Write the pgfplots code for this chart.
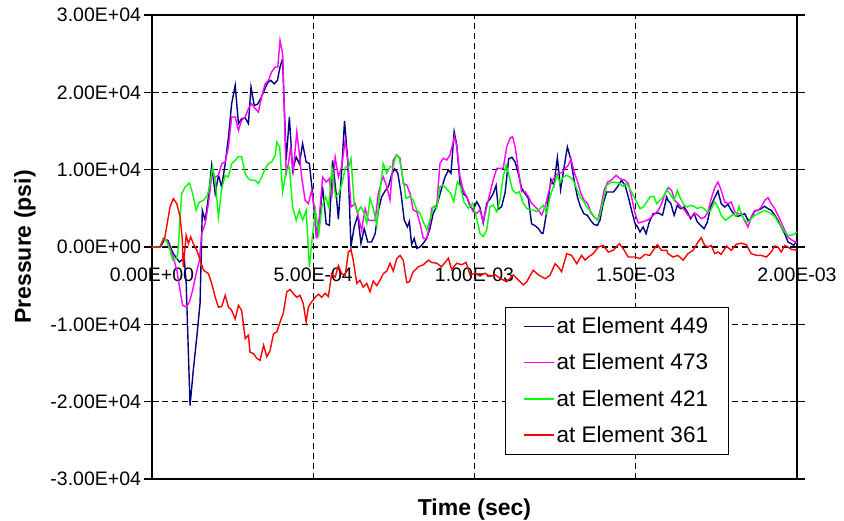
\documentclass[border=0pt]{standalone}
\usepackage{pgfplots}
\pgfplotsset{compat=1.18}
\usepackage{pgfplotstable}
\usepackage{fontspec}
\setmainfont{Liberation Sans}
\definecolor{navyb}{RGB}{0,0,128}
\definecolor{magn}{RGB}{255,0,255}
\definecolor{grn}{RGB}{0,255,0}
\definecolor{redd}{RGB}{255,0,0}

\pgfplotsset{
  /pgfplots/legend image code/.code={%
    \draw[mark repeat=2,mark phase=2,#1] plot coordinates {(0pt,0pt) (15pt,0pt) (30pt,0pt)};%
  },
}

\pgfplotstableread{
t p
0 0
25 0
40 1000
50 800
60 -300
66 -860
77 -1500
85 -1950
92 -1700
100 -1500
106 -4700
118 -20500
128 -15950
139 -11600
149 -7300
156 4740
165 3450
175 6470
185 10560
196 6900
206 9270
216 7760
227 10780
237 14200
247 18530
258 20900
268 15950
278 16600
289 16700
299 15950
307 20690
317 18300
327 18450
337 19200
348 20250
358 21200
368 21550
379 21100
389 21550
397 23270
405 24350
416 11200
426 16800
436 9900
447 11640
457 10780
467 13360
478 11000
488 10780
498 6900
509 1720
519 3450
529 7760
540 3000
550 2800
560 11200
571 6900
578 3580
588 9900
597 16300
607 11200
617 90
627 2600
638 4100
648 430
658 2370
669 650
681 650
692 1720
702 4740
712 6470
722 7200
733 7800
743 9300
752 10100
762 9600
772 7000
782 3500
792 2600
798 3280
805 300
813 1120
821 -170
831 0
841 470
852 1120
862 2400
872 4350
883 5300
898 7590
909 9090
919 9960
927 9520
937 14910
945 13200
955 8200
965 6900
976 6500
986 5300
996 4800
1007 5860
1017 5100
1027 3100
1038 5650
1048 6200
1058 6900
1067 7950
1074 4900
1084 5210
1095 7050
1106 11400
1116 11600
1126 11000
1136 9500
1146 7600
1157 6900
1167 6300
1177 3000
1188 2750
1198 2400
1208 1770
1213 1800
1224 4600
1237 8750
1246 7970
1257 11550
1267 7410
1277 10130
1288 12930
1298 11420
1308 8840
1319 6470
1329 5170
1339 4310
1350 4100
1360 3450
1370 2930
1381 2800
1389 3450
1399 5600
1410 7110
1420 7110
1431 7110
1443 7760
1456 8620
1467 7970
1477 6470
1487 4740
1498 3020
1506 2590
1513 1940
1523 2590
1532 1720
1542 3230
1554 4310
1570 4400
1583 4100
1596 6470
1600 6030
1609 5600
1619 4100
1629 5390
1639 4960
1650 5170
1660 4530
1670 3660
1681 4310
1691 3230
1701 2800
1712 2370
1722 3230
1732 5170
1743 6250
1755 7240
1765 5600
1776 5170
1786 5520
1796 4740
1807 4100
1817 3970
1827 4100
1838 4310
1848 3450
1858 3660
1869 4650
1879 4740
1889 4960
1900 5260
1910 4960
1920 4740
1931 4100
1941 3450
1951 2590
1962 1720
1972 650
1982 430
1990 220
2000 860
}\elA

\pgfplotstableread{
t p
0 0
25 0
35 1080
46 900
56 -215
66 -1300
77 -3000
87 -5600
95 -7540
106 -7760
116 -7100
126 -5600
137 -3450
147 -1720
154 1720
165 3020
175 5600
185 9050
196 9050
206 9270
216 10780
227 11000
237 12930
247 16810
258 16810
268 15090
278 16380
289 16810
299 17890
309 18530
320 17890
330 17460
340 19400
351 21120
361 21550
371 22630
382 23270
390 23270
397 26720
405 25000
416 9480
423 10780
430 12930
438 9910
449 14870
457 12070
464 9050
475 6030
485 5600
495 7330
503 5170
511 1080
519 3880
529 9050
540 8400
550 8840
557 6250
568 11640
578 9050
588 10340
599 13790
609 10340
617 5170
630 5600
640 3880
650 2150
661 4960
671 3450
681 3450
692 3450
702 7000
712 8500
717 9090
728 7800
738 6080
748 11250
759 11900
769 11500
779 8230
790 8020
800 6940
810 4780
821 4570
831 3060
841 1120
852 1120
862 3060
867 5000
883 5430
893 10820
903 11470
914 11250
924 11900
938 14270
945 12970
955 9090
965 7370
976 6510
986 5430
996 4570
1007 4350
1017 4780
1027 3280
1038 5220
1048 6940
1058 8660
1069 10170
1079 10170
1089 10170
1100 12970
1110 14050
1118 14270
1126 12970
1136 9960
1146 7150
1157 7150
1167 6510
1177 5650
1188 5220
1198 4780
1208 4140
1219 5220
1229 6940
1239 8450
1250 9090
1260 9570
1270 9570
1281 10130
1291 10560
1299 11420
1309 9700
1320 8400
1330 6900
1340 6030
1351 5600
1361 4400
1371 3880
1382 3450
1392 5170
1402 7330
1413 8400
1423 8620
1439 9270
1451 8840
1467 8620
1477 8190
1487 6470
1498 4310
1508 3100
1518 3230
1529 3360
1539 3530
1549 3880
1560 4310
1570 4740
1580 5600
1591 6900
1601 7670
1611 7330
1621 6030
1631 5600
1641 5170
1652 4740
1662 4100
1672 3880
1683 4400
1693 4100
1703 3660
1714 3880
1724 4530
1734 6250
1745 7670
1755 8400
1765 7330
1776 5820
1786 5600
1796 5820
1807 4530
1817 4310
1827 4310
1838 3360
1848 2590
1858 3880
1869 4740
1879 4740
1889 5170
1900 6030
1910 6380
1920 5600
1931 4960
1941 4100
1951 3230
1962 2150
1972 1290
1982 950
2000 520
}\elB

\pgfplotstableread{
t p
0 0
25 0
35 1080
46 700
56 -430
64 -1720
75 -1500
80 -860
92 6900
103 7760
116 8280
126 6900
137 4740
147 5820
160 6030
172 6680
180 8190
188 10340
196 8620
206 3880
216 7540
227 9270
237 9050
247 10780
258 11200
268 11720
278 11640
289 9480
299 8840
309 8620
320 8620
330 8190
340 9050
351 10130
361 10780
371 11000
382 11850
387 13580
396 12930
405 7110
416 9910
426 10340
436 5170
447 3450
457 4740
467 3450
478 4740
488 -2590
496 860
507 4740
517 1720
527 5170
538 6470
548 5170
558 10340
569 6470
579 6900
589 8190
600 10340
610 10340
617 11420
627 5600
638 4530
648 5170
658 4300
666 3060
676 6290
686 5000
697 2840
707 7370
717 10820
728 9530
738 10390
748 10390
757 11900
767 11460
777 9090
788 6290
798 6510
810 6080
821 4780
831 4350
841 3280
852 2200
862 3490
872 5220
883 5000
893 7800
903 8020
916 7370
926 6940
936 5860
947 8450
957 7800
967 5860
981 5000
994 5650
1007 3710
1017 1770
1027 1340
1038 2200
1048 5220
1058 5430
1069 4570
1079 6080
1089 9090
1098 10600
1108 9090
1118 7370
1129 6940
1139 7150
1151 5650
1162 5000
1172 4780
1182 4780
1193 4570
1203 4960
1213 5390
1224 4310
1234 6470
1246 7970
1257 9270
1265 8280
1275 9050
1286 9270
1296 9050
1306 8620
1317 7540
1327 6470
1337 6030
1348 5170
1358 4740
1368 4100
1381 3450
1389 4100
1399 6030
1410 7970
1420 8280
1430 8400
1446 8280
1461 7840
1472 8190
1482 7540
1492 6680
1503 5820
1513 4960
1523 5170
1534 5820
1544 6470
1556 6550
1565 5600
1575 6030
1585 6470
1596 7410
1606 6900
1619 6030
1629 7330
1639 6250
1650 5390
1660 5170
1670 5390
1681 5260
1691 4960
1701 5170
1712 4960
1722 4530
1732 4740
1745 5820
1755 5170
1765 4100
1778 3450
1791 3880
1802 4220
1812 3970
1820 5260
1829 4100
1838 3450
1848 3230
1858 3660
1869 4100
1879 4310
1889 4530
1900 4740
1910 4530
1920 4310
1931 3970
1941 3230
1951 2590
1962 1940
1972 1510
1982 1510
1993 1720
2000 1940
}\elC

\pgfplotstableread{
t p
0 0
25 0
40 1300
56 5170
66 6250
77 5600
87 3900
94 1000
97 -2600
106 1500
113 430
120 1300
128 430
139 -430
149 -1700
160 -3000
175 -3450
185 -4700
196 -6500
206 -7800
216 -7700
227 -6250
237 -7750
247 -8200
258 -9300
268 -7550
278 -8200
289 -11850
299 -11400
304 -13600
315 -13800
325 -14400
335 -14650
346 -12700
356 -14200
366 -13400
377 -11200
387 -11000
397 -9700
407 -8600
418 -5800
428 -5500
438 -6000
449 -6500
459 -6250
469 -7300
478 -9700
485 -7750
495 -7100
506 -6500
516 -6100
526 -6500
537 -6000
547 -6400
557 -3450
568 -3900
578 -2400
588 -3450
599 -3650
609 -650
617 -350
624 -1700
635 -4700
645 -4300
655 -5200
666 -4700
676 -5800
686 -4400
697 -5000
707 -4300
717 -3450
728 -3100
738 -2100
748 -3100
759 -1500
769 -1100
779 -1700
790 -4600
798 -4500
810 -3200
826 -2550
841 -2300
857 -1700
867 -2000
883 -2100
898 -2550
919 -1450
929 -2900
945 -2100
960 -2300
974 -2000
986 -3600
1002 -3400
1017 -3750
1033 -3400
1048 -3800
1064 -3600
1079 -4050
1100 -4500
1120 -3600
1136 -4270
1151 -4900
1162 -4500
1182 -3000
1198 -3600
1219 -4100
1234 -3660
1250 -2150
1260 -2600
1270 -3200
1286 -860
1301 -1080
1317 -2150
1332 -1080
1343 -1700
1353 -1300
1368 -860
1384 0
1399 200
1415 -650
1430 -430
1449 430
1461 -200
1477 -1300
1498 -1300
1513 -1500
1529 -950
1544 -1080
1554 -430
1567 300
1580 -430
1596 -430
1600 -860
1616 -1300
1631 -1080
1647 -1700
1662 -860
1678 -430
1693 650
1703 1200
1714 200
1724 0
1734 200
1745 -860
1755 -650
1765 -950
1781 130
1796 -430
1812 350
1827 500
1843 300
1858 -860
1874 -1080
1889 -1080
1905 -1300
1920 -650
1931 130
1941 0
1951 -650
1962 200
1972 0
1982 -300
2000 -430
}\elD

\begin{document}
\begin{tikzpicture}
\begin{axis}[
  scale only axis,
  width=645pt, height=464pt,
  xmin=0, xmax=2000, ymin=-30000, ymax=30000,
  scaled ticks=false,
  xtick={0,500,1000,1500,2000},
  xticklabels={0.00E+00,5.00E-04,1.00E-03,1.50E-03,2.00E-03},
  ytick={-30000,-20000,-10000,0,10000,20000,30000},
  yticklabels={-3.00E+04,-2.00E+04,-1.00E+04,0.00E+00,1.00E+04,2.00E+04,3.00E+04},
  grid=major,
  major grid style={black, line width=1.1pt, dash pattern=on 6pt off 4pt},
  axis line style={black, line width=1.5pt},
  xtick style={draw=none},
  ytick style={black, line width=1.2pt},
  major tick length=15pt,
  tick align=center,
  tick label style={font=\fontsize{19.5}{20}\selectfont},
  xticklabel style={anchor=center, yshift=211.5pt},
  yticklabel style={anchor=east},
  xlabel={\textbf{Time (sec)}},
  ylabel={\textbf{Pressure (psi)}},
  label style={font=\fontsize{23}{24}\selectfont},
  xlabel style={at={(rel axis cs:0.5,0)}, anchor=center, yshift=-31pt},
  ylabel style={at={(rel axis cs:0,0.5)}, anchor=center, yshift=127pt},
  legend style={at={(0.547,0.371)}, anchor=north west, draw=black, line width=1pt,
    font=\fontsize{22.5}{24}\selectfont, inner xsep=18pt, inner ysep=8pt, row sep=14.5pt},
  legend cell align=left,
  every axis plot/.append style={line width=1.4pt},
]
\coordinate (SW) at (rel axis cs:0,0);
\coordinate (NE) at (rel axis cs:1,1);
\addplot[navyb] table[x=t,y=p] {\elA};
\addlegendentry{at Element 449}
\addplot[magn] table[x=t,y=p] {\elB};
\addlegendentry{at Element 473}
\addplot[grn] table[x=t,y=p] {\elC};
\addlegendentry{at Element 421}
\addplot[redd] table[x=t,y=p] {\elD};
\addlegendentry{at Element 361}
\end{axis}
\pgfresetboundingbox
\path[use as bounding box] ([shift={(-152pt,-42pt)}]SW) rectangle ([shift={(47pt,15pt)}]NE);
\end{tikzpicture}
\end{document}
